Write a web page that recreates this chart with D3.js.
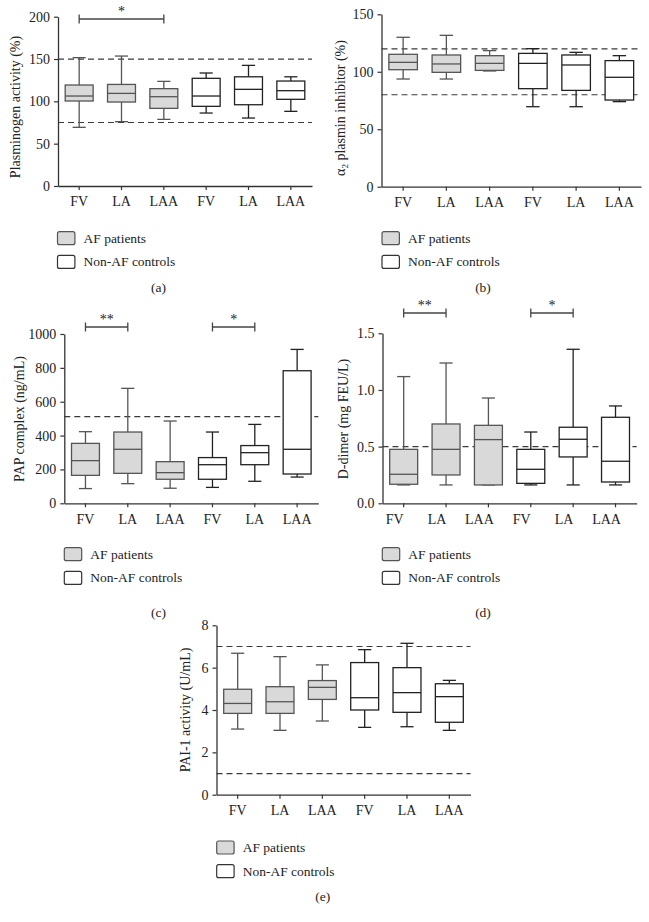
<!DOCTYPE html>
<html>
<head>
<meta charset="utf-8">
<script src="https://cdn.jsdelivr.net/npm/d3@7"></script>
<style>
  html, body { margin: 0; padding: 0; background: #fff; }
  svg { display: block; }
  text { font-family: "Liberation Serif", "Times New Roman", serif; fill: #222; }
</style>
</head>
<body>
<svg id="chart" width="649" height="922"></svg>
<script>
// ---------------- DATA ----------------
const categories = ["FV", "LA", "LAA", "FV", "LA", "LAA"];
const groupOf = ["AF", "AF", "AF", "Non-AF", "Non-AF", "Non-AF"];
const legendLabels = ["AF patients", "Non-AF controls"];

// each row: [min, Q1, median, Q3, max]
const plasminogen = [
  [69.3, 100.4, 106.3, 119.3, 151.6],
  [76.0, 99.2, 109.4, 120.0, 153.5],
  [78.7, 91.7, 105.5, 115.0, 123.6],
  [86.2, 94.1, 106.3, 127.2, 133.5],
  [80.3, 96.0, 114.2, 129.0, 142.5],
  [88.2, 102.4, 112.6, 124.0, 129.0]
];
const plasminogenRef = [75, 150];
const plasminogenTicks = [0, 50, 100, 150, 200];
const plasminogenSig = [{ from: 0, to: 2, label: "*" }];

const antiplasmin = [
  [93.7, 101.8, 108.2, 115.2, 130.0],
  [93.7, 99.5, 106.8, 114.6, 131.7],
  [100.7, 101.2, 107.3, 114.0, 118.4],
  [69.6, 85.3, 107.3, 116.0, 120.1],
  [69.6, 83.8, 105.9, 114.6, 116.9],
  [74.0, 75.4, 95.2, 109.7, 114.0]
];
const antiplasminRef = [80, 120];
const antiplasminTicks = [0, 50, 100, 150];
const antiplasminSig = [];

const pap = [
  [87, 165, 252, 354, 423],
  [116, 177, 319, 421, 679],
  [89, 142, 181, 246, 486],
  [94, 142, 228, 270, 421],
  [130, 228, 299, 341, 466],
  [155, 173, 319, 783, 909]
];
const papRef = [512];
const papTicks = [0, 200, 400, 600, 800, 1000];
const papSig = [{ from: 0, to: 1, label: "**" }, { from: 3, to: 4, label: "*" }];

const ddimer = [
  [0.162, 0.168, 0.256, 0.476, 1.118],
  [0.162, 0.250, 0.476, 0.700, 1.238],
  [0.162, 0.162, 0.562, 0.688, 0.929],
  [0.162, 0.176, 0.300, 0.476, 0.629],
  [0.162, 0.409, 0.565, 0.671, 1.359],
  [0.162, 0.188, 0.371, 0.759, 0.859]
];
const ddimerRef = [0.5];
const ddimerTicks = [0, 0.5, 1.0, 1.5];
const ddimerSig = [{ from: 0, to: 1, label: "**" }, { from: 3, to: 4, label: "*" }];

const pai1 = [
  [3.10, 3.84, 4.31, 4.98, 6.68],
  [3.04, 3.84, 4.39, 5.10, 6.52],
  [3.48, 4.50, 5.07, 5.39, 6.13],
  [3.18, 4.00, 4.58, 6.24, 6.85],
  [3.21, 3.89, 4.82, 6.00, 7.15],
  [3.04, 3.42, 4.63, 5.24, 5.40]
];
const pai1Ref = [1, 7];
const pai1Ticks = [0, 2, 4, 6, 8];
const pai1Sig = [];

// ---------------- LAYOUT ----------------
const panels = [
  { data: plasminogen, refs: plasminogenRef, ticks: plasminogenTicks, sig: plasminogenSig,
    ylabel: ["Plasminogen activity (%)"], fmt: d3.format("d"),
    x0: 58, x1: 312, yb: 186, yt: 16.7, labelX: 15, labelY: 107, tickShift: 0, sigY: 19,
    legX: 57.5, legY: 231.7, caption: "(a)", capX: 158.5, capY: 287 },
  { data: antiplasmin, refs: antiplasminRef, ticks: antiplasminTicks, sig: antiplasminSig,
    ylabel: "alpha", fmt: d3.format("d"),
    x0: 381.5, x1: 641, yb: 186.7, yt: 14.3, labelX: 340.5, labelY: 108, tickShift: 0, sigY: 0,
    legX: 382, legY: 231.7, caption: "(b)", capX: 483, capY: 287 },
  { data: pap, refs: papRef, ticks: papTicks, sig: papSig,
    ylabel: ["PAP complex (ng/mL)"], fmt: d3.format("d"),
    x0: 64.3, x1: 318.3, yb: 503.3, yt: 334, labelX: 19, labelY: 419, tickShift: 0, sigY: 327,
    legX: 64.3, legY: 547.7, caption: "(c)", capX: 158.5, capY: 612 },
  { data: ddimer, refs: ddimerRef, ticks: ddimerTicks, sig: ddimerSig,
    ylabel: ["D-dimer (mg FEU/L)"], fmt: d3.format(".1f"),
    x0: 382.5, x1: 636.7, yb: 503.3, yt: 333.3, labelX: 343, labelY: 419, tickShift: -9, sigY: 313,
    legX: 382.3, legY: 547.7, caption: "(d)", capX: 483, capY: 612 },
  { data: pai1, refs: pai1Ref, ticks: pai1Ticks, sig: pai1Sig,
    ylabel: ["PAI-1 activity (U/mL)"], fmt: d3.format("d"),
    x0: 216.5, x1: 470.5, yb: 794.7, yt: 625.3, labelX: 185, labelY: 710, tickShift: 0, sigY: 0,
    legX: 216.7, legY: 841, caption: "(e)", capX: 322.7, capY: 896 }
];

const AF_FILL = "#d9d9d9", AF_STROKE = "#555", CTRL_FILL = "#fff", CTRL_STROKE = "#222";
const svg = d3.select("#chart");

panels.forEach(p => {
  const g = svg.append("g");
  const yMax = p.ticks[p.ticks.length - 1];
  const y = d3.scaleLinear().domain([0, yMax]).range([p.yb, p.yt]);
  const x = d3.scaleBand().domain(d3.range(categories.length)).range([p.x0, p.x1]).padding(0);
  const bw = x.bandwidth();
  const boxW = bw * 0.66, capW = bw * 0.31;

  // reference dashed lines
  g.selectAll(".ref").data(p.refs).join("line")
    .attr("x1", p.x0).attr("x2", p.x1)
    .attr("y1", d => y(d)).attr("y2", d => y(d))
    .attr("stroke", "#3a3a3a").attr("stroke-width", 1.2).attr("stroke-dasharray", "6,4");

  // boxes
  const bx = g.selectAll(".box").data(p.data).join("g")
    .attr("transform", (d, i) => `translate(${x(i) + bw / 2},0)`);
  bx.each(function (d, i) {
    const s = d3.select(this);
    const af = groupOf[i] === "AF";
    const stroke = af ? AF_STROKE : CTRL_STROKE;
    const [mn, q1, md, q3, mx] = d;
    s.append("line").attr("x1", 0).attr("x2", 0).attr("y1", y(q3)).attr("y2", y(mx))
      .attr("stroke", stroke).attr("stroke-width", 1.3);
    s.append("line").attr("x1", 0).attr("x2", 0).attr("y1", y(q1)).attr("y2", y(mn))
      .attr("stroke", stroke).attr("stroke-width", 1.3);
    s.append("line").attr("x1", -capW / 2).attr("x2", capW / 2).attr("y1", y(mx)).attr("y2", y(mx))
      .attr("stroke", stroke).attr("stroke-width", 1.3);
    s.append("line").attr("x1", -capW / 2).attr("x2", capW / 2).attr("y1", y(mn)).attr("y2", y(mn))
      .attr("stroke", stroke).attr("stroke-width", 1.3);
    s.append("rect").attr("x", -boxW / 2).attr("width", boxW)
      .attr("y", y(q3)).attr("height", Math.max(0.5, y(q1) - y(q3)))
      .attr("fill", af ? AF_FILL : CTRL_FILL).attr("stroke", stroke).attr("stroke-width", 1.3);
    s.append("line").attr("x1", -boxW / 2).attr("x2", boxW / 2).attr("y1", y(md)).attr("y2", y(md))
      .attr("stroke", stroke).attr("stroke-width", 1.3);
  });

  // axes
  const yAxis = d3.axisLeft(y).tickValues(p.ticks).tickFormat(p.fmt).tickSize(4).tickSizeOuter(0).tickPadding(4);
  const ya = g.append("g").attr("transform", `translate(${p.x0},0)`).call(yAxis);
  const xAxis = d3.axisBottom(x).tickFormat(i => categories[i]).tickSize(4).tickSizeOuter(0).tickPadding(6.5);
  const xa = g.append("g").attr("transform", `translate(0,${p.yb})`).call(xAxis);
  [ya, xa].forEach(a => {
    a.select(".domain").attr("stroke", "#333").attr("stroke-width", 1.3);
    a.selectAll(".tick line").attr("stroke", "#333").attr("stroke-width", 1.2);
    a.selectAll(".tick text").attr("font-size", 14).attr("font-family", "Liberation Serif").attr("fill", "#222");
  });
  xa.selectAll(".tick text").attr("dx", p.tickShift);

  // y label
  const lab = g.append("text")
    .attr("transform", `translate(${p.labelX},${p.labelY}) rotate(-90)`)
    .attr("text-anchor", "middle").attr("dy", "0.35em").attr("font-size", 14);
  if (p.ylabel === "alpha") {
    lab.append("tspan").text("α");
    lab.append("tspan").attr("font-size", 9).attr("dy", "3").text("2");
    lab.append("tspan").attr("dy", "-3").text(" plasmin inhibitor (%)");
  } else {
    lab.text(p.ylabel[0]);
  }

  // significance brackets
  p.sig.forEach(s => {
    const xa1 = x(s.from) + bw / 2, xa2 = x(s.to) + bw / 2;
    const sg = g.append("g").attr("stroke", "#444").attr("stroke-width", 1.3);
    sg.append("line").attr("x1", xa1).attr("x2", xa2).attr("y1", p.sigY).attr("y2", p.sigY);
    sg.append("line").attr("x1", xa1).attr("x2", xa1).attr("y1", p.sigY - 4.5).attr("y2", p.sigY + 4.5);
    sg.append("line").attr("x1", xa2).attr("x2", xa2).attr("y1", p.sigY - 4.5).attr("y2", p.sigY + 4.5);
    g.append("text").attr("x", (xa1 + xa2) / 2).attr("y", p.sigY - 3)
      .attr("text-anchor", "middle").attr("font-size", 14).attr("fill", "#444").text(s.label);
  });

  // legend
  legendLabels.forEach((l, k) => {
    const ly = p.legY + k * 23.7;
    g.append("rect").attr("x", p.legX).attr("y", ly).attr("width", 17.4).attr("height", 13)
      .attr("rx", 2).attr("fill", k === 0 ? AF_FILL : CTRL_FILL)
      .attr("stroke", k === 0 ? AF_STROKE : "#333").attr("stroke-width", 1.2);
    g.append("text").attr("x", p.legX + 26).attr("y", ly + 10.8).attr("font-size", 13.5).text(l);
  });

  // caption
  g.append("text").attr("x", p.capX).attr("y", p.capY).attr("dy", "0.35em")
    .attr("text-anchor", "middle").attr("font-size", 13.5).text(p.caption);
});
</script>
</body>
</html>
